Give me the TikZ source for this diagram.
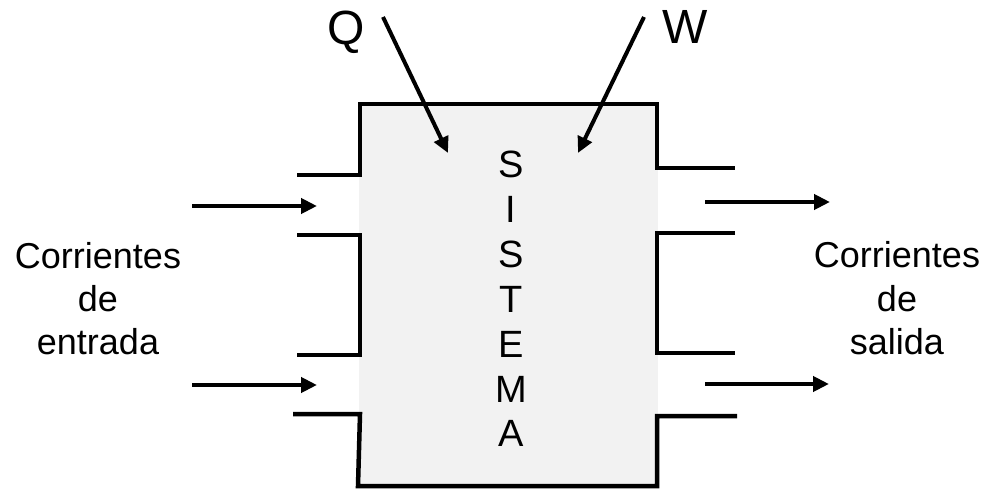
\documentclass[tikz,border=0pt]{standalone}
\usepackage{fontspec}
\setmainfont{Liberation Sans}
\usetikzlibrary{arrows.meta}

\begin{document}
\begin{tikzpicture}[x=1pt, y=-1pt, >={Triangle[length=16pt, width=15pt]},
  flow/.style={->, line width=4pt},
  wall/.style={line width=4.5pt},
  lbl/.style={anchor=base, font=\fontsize{36}{42}\selectfont},
  big/.style={anchor=base, font=\fontsize{48}{54}\selectfont}]
\useasboundingbox (0,0) rectangle (986,489);
% volumen del sistema
\node[fill=black!5, inner sep=0pt, minimum width=299pt, minimum height=382pt] (caja) at (508.5,295) {};
\foreach \l [count=\i] in {S,I,S,T,E,M,A}
  \node[anchor=base, font=\fontsize{38}{44}\selectfont] (l\i) at (511,{178+44.8*(\i-1)}) {\l};
% paredes
\draw[wall] (297,175) -- (360,175) -- (360,104) -- (657,104) -- (657,168) -- (735,168);
\draw[wall] (297,235) -- (360,235) -- (360,355) -- (297,355);
\draw[wall] (735,233) -- (657,233) -- (657,353) -- (735,353);
\draw[wall] (293,414) -- (360,414) -- (358,486) -- (657,486) -- (657,416) -- (737,416);
% corrientes
\node[lbl] (ent1) at (98,269) {Corrientes};
\node[lbl] (ent2) at (98,312) {de};
\node[lbl] (ent3) at (98,355) {entrada};
\node[lbl] (sal1) at (897,268) {Corrientes};
\node[lbl] (sal2) at (897,312) {de};
\node[lbl] (sal3) at (897,354) {salida};
\coordinate (e1a) at (192,206); \coordinate (e1b) at (317,206);
\coordinate (e2a) at (192,385); \coordinate (e2b) at (317,385);
\coordinate (s1a) at (705,202); \coordinate (s1b) at (830,202);
\coordinate (s2a) at (705,384); \coordinate (s2b) at (829,384);
\draw[flow] (e1a) -- (e1b); \draw[flow] (e2a) -- (e2b);
\draw[flow] (s1a) -- (s1b); \draw[flow] (s2a) -- (s2b);
% calor y trabajo
\node[big] (Q) at (346,45) {Q};
\node[big] (W) at (685,44) {W};
\coordinate (qa) at (383,17); \coordinate (qb) at (448,153);
\coordinate (wa) at (644,17); \coordinate (wb) at (578,153);
\draw[flow] (qa) -- (qb);
\draw[flow] (wa) -- (wb);
\end{tikzpicture}
\end{document}
